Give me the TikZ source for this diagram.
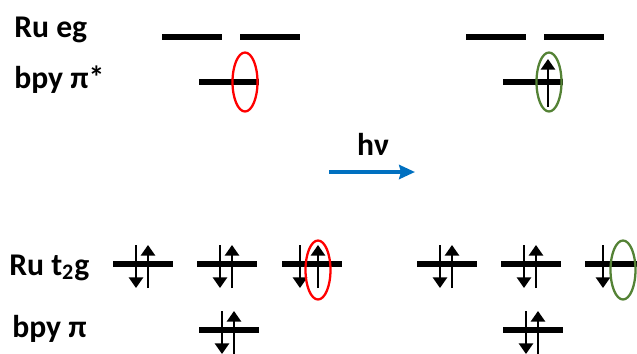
\documentclass[tikz,border=0pt]{standalone}
\usepackage{fontspec}
\setmainfont{Carlito}
\usetikzlibrary{arrows.meta, shapes.geometric, calc}
\definecolor{myred}{RGB}{255,0,0}
\definecolor{mygreen}{RGB}{84,130,53}
\definecolor{myblue}{RGB}{0,112,192}
\tikzset{
  level/.style={rectangle, fill=black, minimum width=1.2cm,
    minimum height=0.12cm, inner sep=0pt},
  lbl/.style={anchor=base west, inner sep=0pt,
    font=\bfseries\fontsize{18}{20}\selectfont},
  elec/.style={-{Triangle[length=6pt, width=8pt]}, line width=1.2pt},
  hole/.style={ellipse, draw, line width=1.3pt, minimum width=0.5cm,
    minimum height=1.18cm, inner sep=0pt},
  hvarrow/.style={-{Stealth[length=9pt, width=8pt, inset=1pt]},
    line width=2.2pt, color=myblue}
}
\begin{document}
\begin{tikzpicture}[x=0.02cm, y=-0.02cm]
  \useasboundingbox (0,0) rectangle (637,353);
  % labels
  \node[lbl] (lEg) at (14,37) {Ru eg};
  \node[lbl] (lPs) at (14,88) {bpy π*};
  \node[lbl] (lTg) at (9,275) {Ru t\textsubscript{2}g};
  \node[lbl] (lPi) at (12,337) {bpy π};

  % ground state (left)
  \node[level] (eg1) at (192,37) {};
  \node[level] (eg2) at (270,37) {};
  \node[level] (ps1) at (229,82) {};
  \node[level] (t1) at (143,264) {};
  \node[level] (t2) at (227,264) {};
  \node[level] (t3) at (312,264) {};
  \node[level] (pa) at (229,330) {};

  % excited state (right)
  \node[level] (eg3) at (496,37) {};
  \node[level] (eg4) at (574,37) {};
  \node[level] (ps2) at (533,82) {};
  \node[level] (ta) at (447,264) {};
  \node[level] (tb) at (531,264) {};
  \node[level] (tc) at (615,264) {};
  \node[level] (pb) at (533,330) {};

  % paired electrons
  \foreach \lv in {t1,t2,pa,ta,tb,pb} {
    \draw[elec] ($(\lv)+(-7,-19)$) -- ($(\lv)+(-7,24)$);
    \draw[elec] ($(\lv)+(5,24)$) -- ($(\lv)+(5,-19)$);
  }
  \draw[elec] ($(t3)+(-12,-19)$) -- ($(t3)+(-12,24)$);
  \draw[elec] ($(t3)+(6,24)$) -- ($(t3)+(6,-19)$);
  \draw[elec] ($(tc)+(-12,-19)$) -- ($(tc)+(-12,24)$);
  \draw[elec] ($(ps2)+(15,25)$) -- ($(ps2)+(15,-23)$); % promoted electron

  % marked orbitals
  \node[hole, draw=myred] (h1) at (245,82) {};
  \node[hole, draw=myred] (h2) at (318,270) {};
  \node[hole, draw=mygreen] (h3) at (549,82) {};
  \node[hole, draw=mygreen] (h4) at (623,270) {};

  % excitation
  \coordinate (hvs) at (329,172);
  \coordinate (hve) at (415,172);
  \draw[hvarrow] (hvs) -- (hve);
  \node[lbl, anchor=base] (hv) at (373,155) {hν};
\end{tikzpicture}
\end{document}
